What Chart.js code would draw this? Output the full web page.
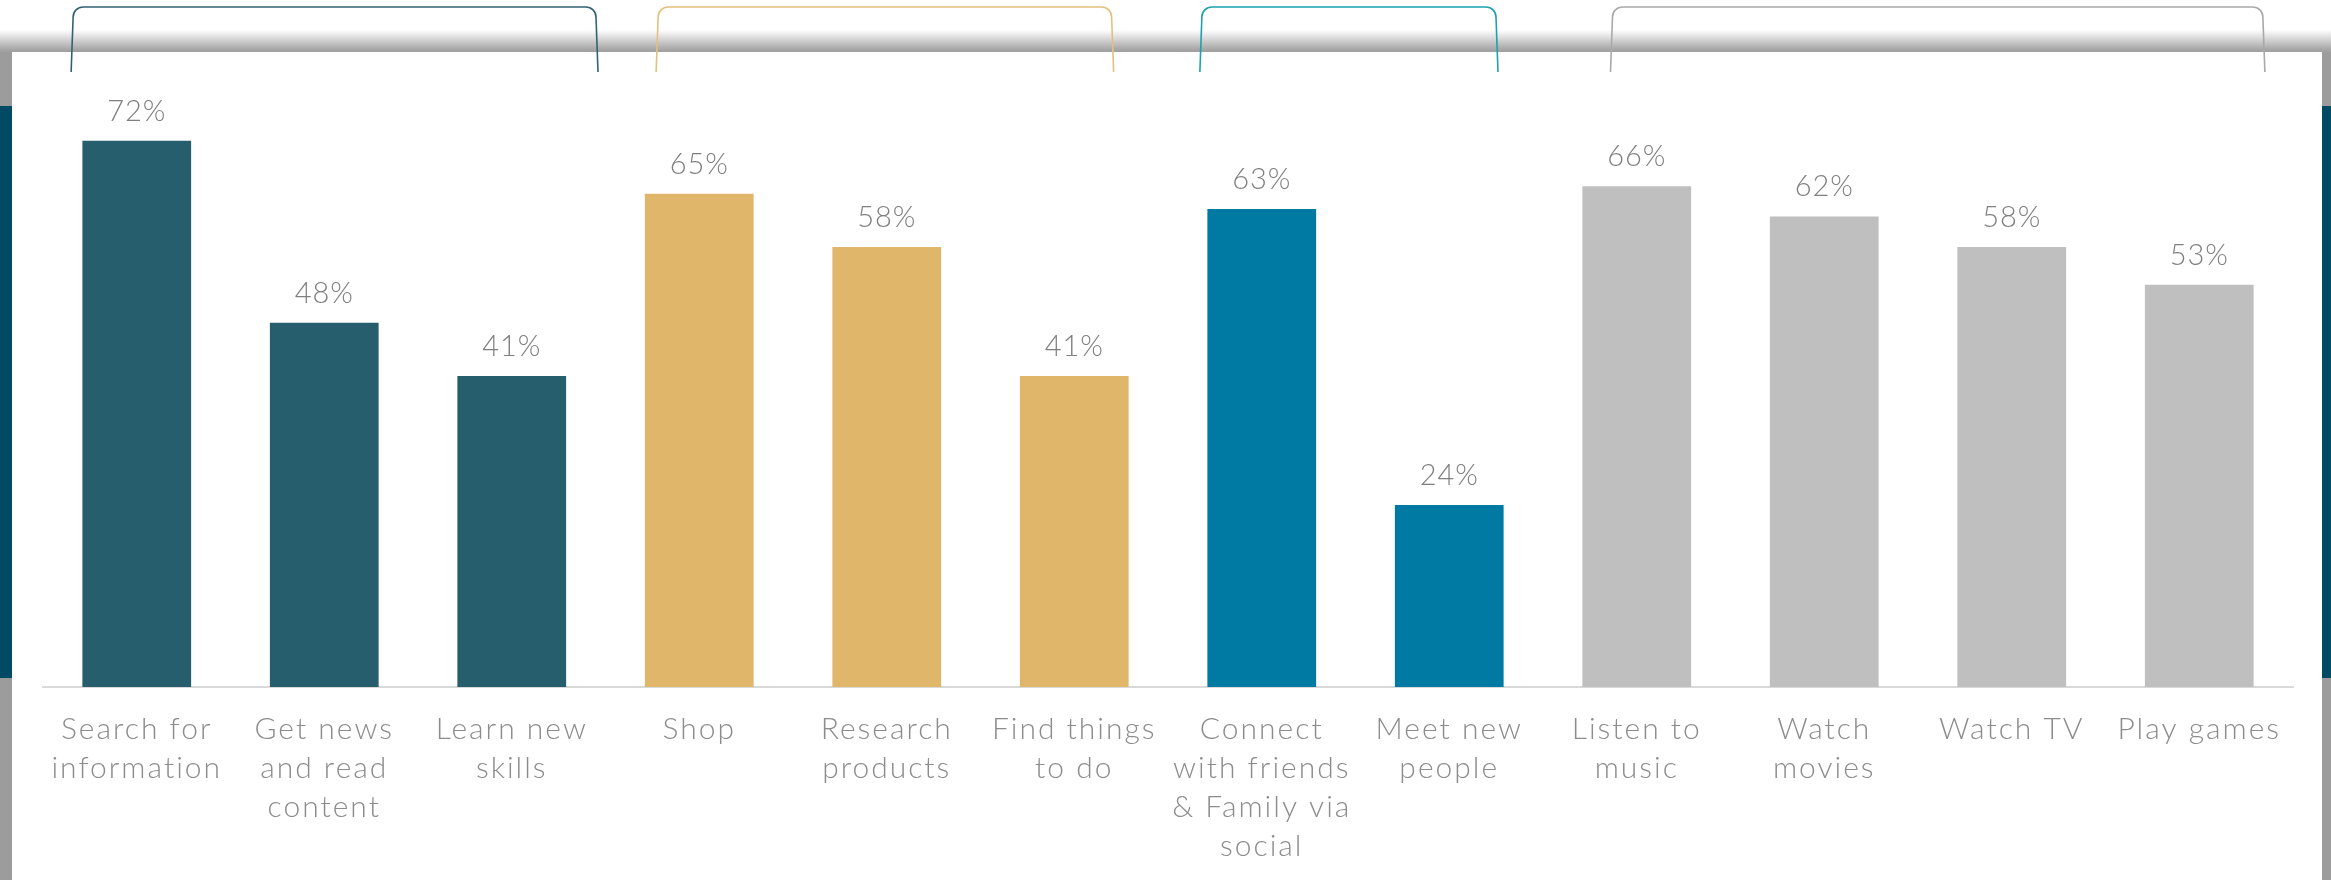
<!DOCTYPE html>
<html>
<head>
<meta charset="utf-8">
<script src="https://cdn.jsdelivr.net/npm/chart.js@4/dist/chart.umd.min.js"></script>
<style>
  body { margin: 0; width: 2331px; height: 880px; overflow: hidden; background: #fff; position: relative; }
  .band { position: absolute; left: 0; top: 0; width: 2331px; height: 52px;
          background: linear-gradient(to bottom, #fff 0px, #fff 30px, #a4a4a4 50px, #a0a0a0 52px); }
  .strip { position: absolute; top: 52px; width: 12px; height: 828px; background: #9c9c9c; }
  .strip .teal { position: absolute; left: 0; top: 54px; width: 100%; height: 572px; background: #004b63; }
  .panel { position: absolute; left: 12px; top: 52px; width: 2310px; height: 828px; background: #fff; }
  #chart { position: absolute; left: 0; top: 0; }
</style>
</head>
<body>
<div class="band"></div>
<div class="strip" style="left:0"><div class="teal"></div></div>
<div class="strip" style="left:2322px; width:9px"><div class="teal"></div></div>
<div class="panel"></div>
<canvas id="chart" width="2331" height="889"></canvas>
<script>
// categories and values (percent of respondents)
const categories = [
    ['Search for', 'information'],
    ['Get news', 'and read', 'content'],
    ['Learn new', 'skills'],
    'Shop',
    ['Research', 'products'],
    ['Find things', 'to do'],
    ['Connect', 'with friends', '& Family via', 'social'],
    ['Meet new', 'people'],
    ['Listen to', 'music'],
    ['Watch', 'movies'],
    'Watch TV',
    'Play games'
];
const values = [72, 48, 41, 65, 58, 41, 63, 24, 66, 62, 58, 53];
const barColors = [
    '#275e6e', '#275e6e', '#275e6e',
    '#e0b66a', '#e0b66a', '#e0b66a',
    '#0079a3', '#0079a3',
    '#bfbfbf', '#bfbfbf', '#bfbfbf', '#bfbfbf'
];

// brackets over each group, in category units
const groupBrackets = [
    { from: -0.35, to: 2.46, color: '#2f6373' },
    { from: 2.77, to: 5.21, color: '#e3c07e' },
    { from: 5.67, to: 7.26, color: '#1aa3ae' },
    { from: 7.86, to: 11.35, color: '#a9a9a9' }
];

const FONT = 'Lato, "Open Sans", sans-serif';

// wider letter spacing, closer to the geometric face of the original
const spacing = {
    id: 'spacing',
    beforeDraw(chart) {
        chart.ctx.letterSpacing = '2px';
    }
};

const valueLabels = {
    id: 'valueLabels',
    afterDatasetsDraw(chart) {
        const ctx = chart.ctx;
        const meta = chart.getDatasetMeta(0);
        ctx.save();
        ctx.letterSpacing = '1px';
        ctx.font = '300 29px ' + FONT;
        ctx.fillStyle = '#7f7f7f';
        ctx.textAlign = 'center';
        ctx.textBaseline = 'bottom';
        meta.data.forEach((bar, i) => {
            ctx.fillText(values[i] + '%', bar.x, bar.y - 15);
        });
        ctx.restore();
    }
};

const brackets = {
    id: 'brackets',
    afterDraw(chart) {
        const ctx = chart.ctx;
        const x = chart.scales.x;
        const top = 7, bottom = 72, r = 10;
        ctx.save();
        ctx.lineWidth = 1.6;
        groupBrackets.forEach(g => {
            const x1 = x.getPixelForValue(g.from);
            const x2 = x.getPixelForValue(g.to);
            ctx.strokeStyle = g.color;
            ctx.beginPath();
            ctx.moveTo(x1, bottom);
            ctx.lineTo(x1 + 2, top + r);
            ctx.arcTo(x1 + 2, top, x1 + 2 + r, top, r);
            ctx.lineTo(x2 - 2 - r, top);
            ctx.arcTo(x2 - 2, top, x2 - 2, top + r, r);
            ctx.lineTo(x2, bottom);
            ctx.stroke();
        });
        ctx.restore();
    }
};

new Chart(document.getElementById('chart'), {
    type: 'bar',
    data: {
        labels: categories,
        datasets: [{
            data: values,
            backgroundColor: barColors,
            borderWidth: 0,
            categoryPercentage: 1,
            barPercentage: 0.58
        }]
    },
    options: {
        responsive: false,
        animation: false,
        layout: { padding: { top: 80, left: 43, right: 38, bottom: 0 } },
        plugins: {
            legend: { display: false },
            tooltip: { enabled: false }
        },
        scales: {
            x: {
                grid: { display: false, drawTicks: false },
                border: { display: true, color: '#d9d9d9', width: 2 },
                ticks: {
                    color: '#8c8c8c',
                    font: { family: FONT, size: 30, weight: '300', lineHeight: 1.3 },
                    padding: 23,
                    maxRotation: 0,
                    autoSkip: false
                }
            },
            y: {
                display: false,
                min: 0,
                max: 80
            }
        }
    },
    plugins: [spacing, valueLabels, brackets]
});
</script>
</body>
</html>
